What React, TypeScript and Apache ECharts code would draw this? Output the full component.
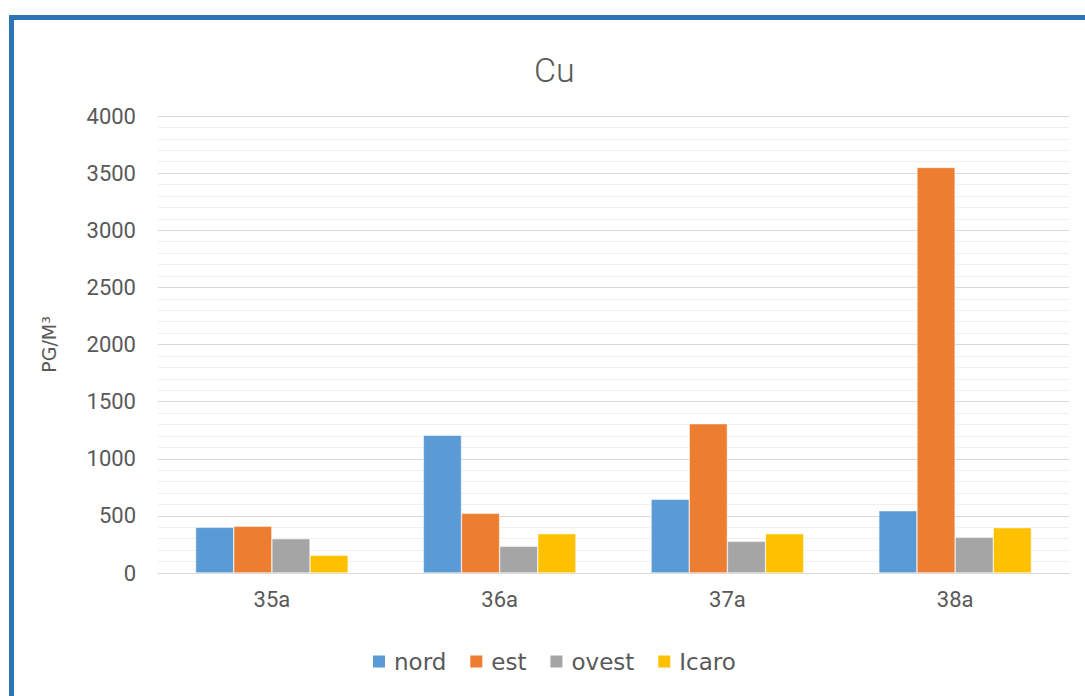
import React, { useEffect, useRef } from "react";
import * as echarts from "echarts";

const categories = ["35a", "36a", "37a", "38a"];
const nord = [400, 1205, 645, 545];
const est = [410, 522, 1307, 3550];
const ovest = [300, 234, 277, 312];
const icaro = [155, 344, 344, 397];
const seriesNames = ["nord", "est", "ovest", "Icaro"];
const colors = ["#5B9BD5", "#ED7D31", "#A5A5A5", "#FFC000"];
const yAxisTitle = "PG/M³";

export default function App() {
  const ref = useRef<HTMLDivElement>(null);
  useEffect(() => {
    if (!ref.current) return;
    const chart = echarts.init(ref.current, null, { renderer: "svg" });
    const data = [nord, est, ovest, icaro];
    const font = "Roboto, 'DejaVu Sans', sans-serif";
    const legendFont = "'DejaVu Sans', Roboto, sans-serif";
    chart.setOption({
      animation: false,
      backgroundColor: "#ffffff",
      textStyle: { fontFamily: font },
      title: {
        text: "Cu",
        left: 529,
        top: 48,
        textStyle: { fontSize: 34, fontWeight: 300, color: "#595959", fontFamily: font },
      },
      legend: {
        top: 645,
        left: 366,
        itemWidth: 14,
        itemHeight: 14,
        itemGap: 22,
        icon: "rect",
        textStyle: { fontSize: 23, color: "#595959", fontFamily: legendFont, padding: [0, 0, 0, 3] },
        data: seriesNames,
      },
      grid: { left: 158, right: 16, top: 116, bottom: 123 },
      xAxis: {
        type: "category",
        data: categories,
        axisLine: { lineStyle: { color: "#d9d9d9", width: 1 } },
        axisTick: { show: false },
        axisLabel: { fontSize: 22, color: "#595959", margin: 15, fontFamily: font },
      },
      yAxis: {
        type: "value",
        min: 0,
        max: 4000,
        interval: 500,
        name: yAxisTitle,
        nameLocation: "middle",
        nameGap: 100,
        nameRotate: 90,
        nameTextStyle: { fontSize: 19, color: "#595959", fontFamily: legendFont },
        axisLine: { show: false },
        axisTick: { show: false },
        axisLabel: {
          fontSize: 22,
          color: "#595959",
          margin: 22,
          fontFamily: font,
          formatter: (v: number) => String(v),
        },
        splitLine: { lineStyle: { color: "#d9d9d9", width: 1 } },
        minorTick: { show: false, splitNumber: 5 },
        minorSplitLine: { show: true, lineStyle: { color: "#f0f0f0", width: 1 } },
      },
      series: seriesNames.map((n, i) => ({
        name: n,
        type: "bar",
        data: data[i],
        barGap: "0%",
        barCategoryGap: "33%",
        itemStyle: { color: colors[i], borderColor: "#ffffff", borderWidth: 0.5 },
      })),
      graphic: [
        {
          type: "rect",
          shape: { x: 11.5, y: 17.5, width: 1200, height: 800 },
          style: { fill: "none", stroke: "#2E75B6", lineWidth: 5 },
          silent: true,
        },
      ],
    });
    return () => chart.dispose();
  }, []);
  return (
    <div
      ref={ref}
      style={{ position: "fixed", left: 0, top: 0, width: 1085, height: 696 }}
    />
  );
}
